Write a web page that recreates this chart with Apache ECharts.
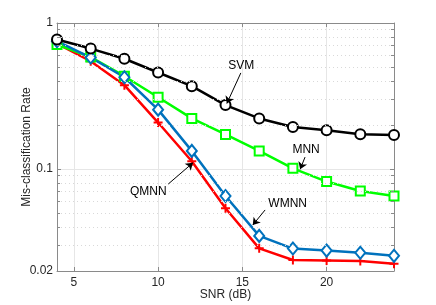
<!DOCTYPE html>
<html>
<head>
<meta charset="utf-8">
<script src="https://cdn.jsdelivr.net/npm/echarts@6/dist/echarts.min.js"></script>
<style>
html,body{margin:0;padding:0;background:#fff;}
#c{width:436px;height:305px;}
</style>
</head>
<body>
<div id="c"></div>
<script>
const snr = [4, 6, 8, 10, 12, 14, 16, 18, 20, 22, 24];
const svm = [0.770, 0.668, 0.569, 0.458, 0.369, 0.274, 0.222, 0.194, 0.184, 0.173, 0.171];
const mnn = [0.712, 0.585, 0.432, 0.310, 0.222, 0.1725, 0.133, 0.101, 0.082, 0.0706, 0.0653];
const wmnn = [0.750, 0.580, 0.425, 0.255, 0.133, 0.0653, 0.0348, 0.0285, 0.0276, 0.0267, 0.0254];
const qmnn = [0.723, 0.547, 0.375, 0.208, 0.113, 0.0538, 0.0286, 0.0238, 0.0236, 0.0234, 0.0224];
const xTicks = [5, 10, 15, 20];
const yMinor = [0.03, 0.04, 0.05, 0.06, 0.07, 0.08, 0.09, 0.2, 0.3, 0.4, 0.5, 0.6, 0.7, 0.8, 0.9];

// annotation anchors in data units: [label x, label y, arrow start x, y, arrow end x, y]
const notes = {
  SVM:  [14.93, 0.514, 14.91, 0.455, 14.08, 0.281],
  MNN:  [18.78, 0.1346, 18.72, 0.1206, 18.43, 0.0994],
  WMNN: [17.69, 0.058, 16.35, 0.0524, 15.62, 0.0413],
  QMNN: [9.42, 0.070, 10.60, 0.0788, 12.07, 0.1103]
};

const FONT = 'Liberation Sans, Arial, Helvetica, sans-serif';
const zip = a => snr.map((x, i) => [x, a[i]]);

function annot(name) {
  const n = notes[name];
  return {
    markPoint: {
      silent: true,
      symbol: 'circle', symbolSize: 1,
      itemStyle: {color: 'rgba(0,0,0,0)'},
      label: {show: true, position: 'inside', formatter: name, color: '#000', fontSize: 12, fontFamily: FONT},
      data: [{coord: [n[0], n[1]]}]
    },
    markLine: {
      silent: true,
      symbol: ['none', 'arrow'], symbolSize: 7,
      label: {show: false},
      lineStyle: {color: '#000', width: 1, type: 'solid'},
      animation: false,
      data: [[{coord: [n[2], n[3]]}, {coord: [n[4], n[5]]}]]
    }
  };
}

const minorLines = [];
yMinor.forEach(v => {
  minorLines.push([{coord: [4, v]}, {coord: [24, v]}]);
});
const minorTicks = [];
yMinor.forEach(v => {
  minorTicks.push([{coord: [4, v]}, {coord: [4.18, v]}]);
  minorTicks.push([{coord: [23.82, v]}, {coord: [24, v]}]);
});

const plusPath = 'path://M-1,-0.22L-0.22,-0.22L-0.22,-1L0.22,-1L0.22,-0.22L1,-0.22L1,0.22L0.22,0.22L0.22,1L-0.22,1L-0.22,0.22L-1,0.22Z';

const chart = echarts.init(document.getElementById('c'), null, {renderer: 'canvas'});
const axisLineStyle = {color: '#8a8a8a', width: 1};
chart.setOption({
  animation: false,
  backgroundColor: '#fff',
  grid: {left: 57, right: 42, top: 23, bottom: 34, show: false, containLabel: false, outerBoundsMode: 'none'},
  xAxis: [{
    type: 'value', min: 4, max: 24, position: 'bottom',
    name: 'SNR (dB)', nameLocation: 'middle', nameGap: 24, nameMoveOverlap: false,
    nameTextStyle: {color: '#262626', fontSize: 12, fontFamily: FONT, verticalAlign: 'middle'},
    axisLine: {show: true, lineStyle: axisLineStyle},
    axisTick: {show: true, inside: true, length: 4, lineStyle: axisLineStyle, customValues: xTicks},
    axisLabel: {color: '#262626', fontSize: 12, fontFamily: FONT, margin: 6, customValues: xTicks},
    splitLine: {show: true, lineStyle: {color: '#e6e6e6', width: 1}}
  }, {
    type: 'value', min: 4, max: 24, position: 'top',
    axisLine: {show: true, lineStyle: axisLineStyle},
    axisTick: {show: true, inside: true, length: 4, lineStyle: axisLineStyle, customValues: xTicks},
    axisLabel: {show: false, customValues: xTicks},
    splitLine: {show: false}
  }],
  yAxis: [{
    type: 'log', logBase: 10, min: 0.02, max: 1, position: 'left',
    name: 'Mis-classification Rate', nameLocation: 'middle', nameGap: 30, nameMoveOverlap: false,
    nameTextStyle: {color: '#262626', fontSize: 12, fontFamily: FONT, verticalAlign: 'middle'},
    axisLine: {show: true, lineStyle: axisLineStyle},
    axisTick: {show: true, inside: true, length: 4, lineStyle: axisLineStyle},
    axisLabel: {color: '#262626', fontSize: 12, fontFamily: FONT, margin: 4,
      formatter: v => String(Number(Number(v).toPrecision(3)))},
    splitLine: {show: true, lineStyle: {color: '#e6e6e6', width: 1}}
  }, {
    type: 'log', logBase: 10, min: 0.02, max: 1, position: 'right',
    axisLine: {show: true, lineStyle: axisLineStyle},
    axisTick: {show: true, inside: true, length: 4, lineStyle: axisLineStyle},
    axisLabel: {show: false},
    splitLine: {show: false}
  }],
  series: [
    {
      name: 'grid', type: 'line', data: [], silent: true,
      markLine: {
        silent: true, symbol: 'none', label: {show: false}, animation: false,
        lineStyle: {color: '#d9d9d9', width: 1, type: [1, 3]},
        data: minorLines
      }
    },
    {
      name: 'ticks', type: 'line', data: [], silent: true,
      markLine: {
        silent: true, symbol: 'none', label: {show: false}, animation: false,
        lineStyle: {color: '#8a8a8a', width: 1, type: 'solid'},
        data: minorTicks
      }
    },
    Object.assign({
      name: 'SVM', type: 'line', data: zip(svm), z: 4,
      symbol: 'emptyCircle', symbolSize: 10,
      lineStyle: {color: '#000', width: 2.5},
      itemStyle: {color: '#000', borderColor: '#000', borderWidth: 2}
    }, annot('SVM')),
    Object.assign({
      name: 'MNN', type: 'line', data: zip(mnn), z: 3,
      symbol: 'emptyRect', symbolSize: 9,
      lineStyle: {color: '#00ff00', width: 2.5},
      itemStyle: {color: '#00ff00', borderColor: '#00ff00', borderWidth: 2}
    }, annot('MNN')),
    Object.assign({
      name: 'WMNN', type: 'line', data: zip(wmnn), z: 3,
      symbol: 'emptyDiamond', symbolSize: [10, 12],
      lineStyle: {color: '#0072BD', width: 2.5},
      itemStyle: {color: '#0072BD', borderColor: '#0072BD', borderWidth: 2}
    }, annot('WMNN')),
    Object.assign({
      name: 'QMNN', type: 'line', data: zip(qmnn), z: 2,
      symbol: plusPath, symbolSize: 9,
      lineStyle: {color: '#ff0000', width: 2.5},
      itemStyle: {color: '#ff0000', borderColor: '#ff0000', borderWidth: 0}
    }, annot('QMNN'))
  ]
});
</script>
</body>
</html>
